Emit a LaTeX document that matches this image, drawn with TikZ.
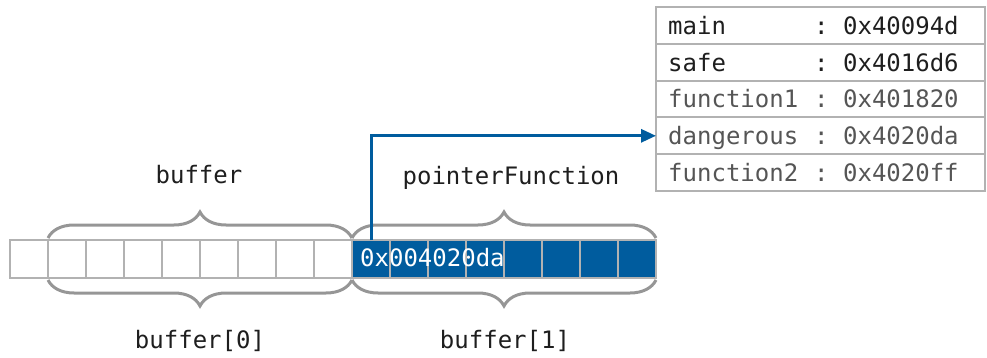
\documentclass[tikz,border=0pt]{standalone}
\usepackage{fontspec}
\setmonofont{DejaVu Sans Mono}
\usetikzlibrary{arrows.meta,decorations.pathreplacing}
\definecolor{cellgray}{RGB}{178,178,178}
\definecolor{bracegray}{RGB}{150,150,150}
\definecolor{ptrblue}{RGB}{0,92,158}
\definecolor{txtdark}{RGB}{30,30,30}
\definecolor{txtgray}{RGB}{85,85,85}
\begin{document}
\begin{tikzpicture}[x=1pt,y=-1pt,
  cell/.style={draw=cellgray,line width=2pt,minimum width=38pt,minimum height=38pt,inner sep=0pt,outer sep=0pt,anchor=north west},
  bluecell/.style={cell,fill=ptrblue},
  rowbox/.style={draw=cellgray,line width=2pt,minimum width=329pt,minimum height=36.8pt,inner sep=0pt,outer sep=0pt,anchor=north west},
  mono/.style={font=\ttfamily\fontsize{24}{28}\selectfont,inner sep=0pt},
  lbl/.style={mono,text=txtdark,anchor=base},
  dark/.style={mono,text=txtdark,anchor=base west},
  light/.style={mono,text=txtgray,anchor=base west},
  bracestyle/.style={draw=bracegray,line width=3pt,decorate,decoration={brace,amplitude=26pt}},
  ptr/.style={draw=ptrblue,line width=3pt,-{Triangle[length=15pt,width=13pt]}}]
\useasboundingbox (0,0) rectangle (987,358);
% cells
\foreach \i in {0,...,8} {\node[cell] (c\i) at ({10+38*\i},240) {};}
\foreach \i in {9,...,16} {\node[bluecell] (c\i) at ({10+38*\i},240) {};}
\node[mono,text=white,anchor=base west] (val) at (360,266.5) {0x004020da};
% braces
\draw[bracestyle] ([yshift=2pt]c1.north west) -- ([yshift=2pt]c8.north east);
\draw[bracestyle] ([yshift=2pt]c9.north west) -- ([yshift=2pt]c16.north east);
\draw[bracestyle] ([yshift=-2pt]c8.south east) -- ([yshift=-2pt]c1.south west);
\draw[bracestyle] ([yshift=-2pt]c16.south east) -- ([yshift=-2pt]c9.south west);
\node[lbl] (lbuf) at (199,184) {buffer};
\node[lbl] (lptr) at (511,184.5) {pointerFunction};
\node[lbl] (lb0) at (200,348) {buffer[0]};
\node[lbl] (lb1) at (505,348) {buffer[1]};
% table
\foreach \i in {0,...,4} {\node[rowbox] (r\i) at (656,{7+36.8*\i}) {};}
\node[dark] (n0) at ([xshift=12pt,yshift=-9pt]r0.west) {main};
\node[dark] (v0) at ([xshift=158pt,yshift=-9pt]r0.west) {: 0x40094d};
\node[dark] (n1) at ([xshift=12pt,yshift=-9pt]r1.west) {safe};
\node[dark] (v1) at ([xshift=158pt,yshift=-9pt]r1.west) {: 0x4016d6};
\node[light] (n2) at ([xshift=12pt,yshift=-9pt]r2.west) {function1};
\node[light] (v2) at ([xshift=158pt,yshift=-9pt]r2.west) {: 0x401820};
\node[light] (n3) at ([xshift=12pt,yshift=-9pt]r3.west) {dangerous};
\node[light] (v3) at ([xshift=158pt,yshift=-9pt]r3.west) {: 0x4020da};
\node[light] (n4) at ([xshift=12pt,yshift=-9pt]r4.west) {function2};
\node[light] (v4) at ([xshift=158pt,yshift=-9pt]r4.west) {: 0x4020ff};
% pointer arrow
\draw[ptr] (c9.north) |- (r3.west);
\end{tikzpicture}
\end{document}
